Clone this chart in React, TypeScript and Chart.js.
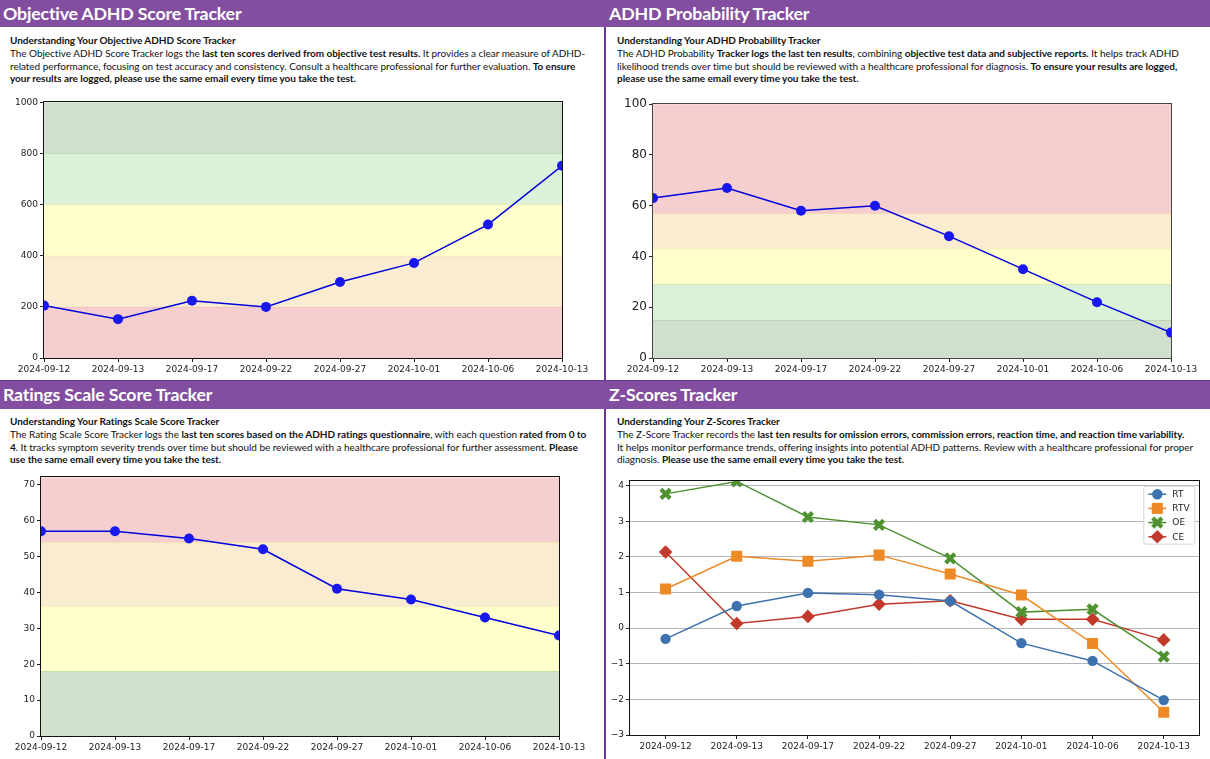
import React, { useEffect, useRef } from "react";
import { Chart, registerables } from "chart.js";
import { drawPoint } from "chart.js/helpers";

Chart.register(...registerables);

const dates = ["2024-09-12", "2024-09-13", "2024-09-17", "2024-09-22", "2024-09-27", "2024-10-01", "2024-10-06", "2024-10-13"];

const objectiveScores = [205, 152, 224, 200, 297, 372, 522, 752];
const probabilityScores = [63, 67, 58, 60, 48, 35, 22, 10];
const ratingScores = [57, 57, 55, 52, 41, 38, 33, 28];
const rtValues = [-0.3, 0.62, 0.99, 0.94, 0.76, -0.42, -0.92, -2.02];
const rtvValues = [1.1, 2.02, 1.88, 2.05, 1.52, 0.93, -0.43, -2.36];
const oeValues = [3.77, 4.12, 3.12, 2.9, 1.96, 0.45, 0.53, -0.8];
const ceValues = [2.14, 0.13, 0.33, 0.67, 0.77, 0.25, 0.25, -0.33];

const RED = ["#f5cfcf", "#f2b5a5"];
const ORANGE = ["#faecd0", "#f8d8a0"];
const YELLOW = ["#ffffcc", "#eeeea8"];
const LIGHT = ["#dcf2d8", "#aed8a0"];
const DARK = ["#d1dfcd", "#9cc88c"];

const objectiveEdges = [0, 200, 400, 600, 800, 1000];
const objectiveColors = [RED, ORANGE, YELLOW, LIGHT, DARK];
const probabilityEdges = [0, 15, 29, 43, 57, 100];
const probabilityColors = [DARK, LIGHT, YELLOW, ORANGE, RED];
const ratingEdges = [0, 18, 36, 54, 72];
const ratingColors = [DARK, YELLOW, ORANGE, RED];

const TICK_FONT = "'DejaVu Sans'";

const bandsPlugin = {
  id: "bands",
  beforeDatasetsDraw(chart: any, _a: any, opts: any) {
    if (!opts.edges) return;
    const { ctx, chartArea: a, scales } = chart;
    ctx.save();
    opts.colors.forEach((c: string[], i: number) => {
      const y0 = scales.y.getPixelForValue(opts.edges[i]);
      const y1 = scales.y.getPixelForValue(opts.edges[i + 1]);
      ctx.fillStyle = c[0];
      ctx.fillRect(a.left, y1, a.right - a.left, y0 - y1);
      if (i < opts.colors.length - 1) {
        ctx.fillStyle = c[1];
        ctx.fillRect(a.left, y1 - 0.5, a.right - a.left, 1);
      }
    });
    ctx.restore();
  },
};

const framePlugin = {
  id: "frame",
  afterDatasetsDraw(chart: any, _a: any, opts: any) {
    const { ctx, chartArea: a } = chart;
    ctx.save();
    ctx.strokeStyle = opts.color || "#111";
    ctx.lineWidth = 1;
    ctx.strokeRect(Math.round(a.left) - 0.5, Math.round(a.top) - 0.5, Math.round(a.right - a.left) + 1, Math.round(a.bottom - a.top) + 1);
    ctx.restore();
  },
};

const keyPlugin = {
  id: "lineKey",
  afterDraw(chart: any, _a: any, opts: any) {
    if (!opts.show) return;
    const { ctx, chartArea: a } = chart;
    const w = 51, h = 58, rowH = 14.2;
    const x = a.right - w - 5, y = a.top + 5;
    ctx.save();
    ctx.fillStyle = "rgba(255,255,255,0.85)";
    ctx.strokeStyle = "#d5d5d5";
    ctx.lineWidth = 1;
    ctx.beginPath();
    ctx.roundRect(x + 0.5, y + 0.5, w, h, 2);
    ctx.fill();
    ctx.stroke();
    chart.data.datasets.forEach((ds: any, i: number) => {
      const cy = y + 8.5 + i * rowH;
      ctx.strokeStyle = ds.borderColor;
      ctx.lineWidth = 1.5;
      ctx.beginPath();
      ctx.moveTo(x + 5, cy);
      ctx.lineTo(x + 23, cy);
      ctx.stroke();
      ctx.fillStyle = ds.pointBackgroundColor;
      ctx.strokeStyle = ds.pointBorderColor;
      ctx.lineWidth = ds.pointBorderWidth;
      drawPoint(ctx, { pointStyle: ds.pointStyle, radius: ds.pointRadius, borderWidth: ds.pointBorderWidth, rotation: 0 } as any, x + 14, cy);
      ctx.fillStyle = "#222";
      ctx.font = `9px ${TICK_FONT}`;
      ctx.textAlign = "left";
      ctx.textBaseline = "middle";
      ctx.fillText(ds.label, x + 29, cy + 0.5);
    });
    ctx.restore();
  },
};

function scaleOptions(o: any) {
  const tickColor = o.tickColor || "#222";
  return {
    x: {
      type: "category",
      offset: !!o.offset,
      afterFit: (s: any) => { s.height = o.xHeight; },
      grid: { drawOnChartArea: false, drawTicks: true, tickLength: 4, tickColor, color: tickColor },
      border: { display: false },
      ticks: { autoSkip: false, maxRotation: 0, minRotation: 0, padding: 2, color: "#222", font: { family: TICK_FONT, size: 9 } },
    },
    y: {
      type: "linear",
      min: o.min,
      max: o.max,
      afterFit: (s: any) => { s.width = o.axisWidth; },
      afterBuildTicks: (s: any) => { s.ticks = o.ticks.map((value: number) => ({ value })); },
      grid: o.yGrid
        ? { drawOnChartArea: true, color: "#b4b4b4", lineWidth: 1, drawTicks: true, tickLength: 4, tickColor }
        : { drawOnChartArea: false, drawTicks: true, tickLength: 4, tickColor, color: tickColor },
      border: { display: false },
      ticks: { padding: 2, color: "#222", font: { family: TICK_FONT, size: o.yFont || 9 }, callback: (v: number) => String(v).replace("-", "\u2212") },
    },
  };
}

function baseOptions(o: any) {
  return {
    responsive: false,
    maintainAspectRatio: false,
    animation: false,
    devicePixelRatio: 1,
    layout: { padding: { left: 0, top: o.padTop, right: o.padRight, bottom: 0 } },
    scales: scaleOptions(o),
    plugins: {
      legend: { display: false },
      tooltip: { enabled: false },
      title: { display: false },
      bands: { edges: o.edges, colors: o.colors },
      frame: { color: o.frameColor },
      lineKey: { show: !!o.key },
    },
  };
}

function blueLine(label: string, data: number[]) {
  return {
    label,
    data,
    borderColor: "#0000e0",
    borderWidth: 1.5,
    backgroundColor: "#1818ee",
    pointBackgroundColor: "#1818ee",
    pointBorderColor: "#1818ee",
    pointBorderWidth: 0,
    pointRadius: 5,
    tension: 0,
    clip: 0,
  };
}

function marked(label: string, data: number[], color: string, pointStyle: string, pointRadius: number, extra: any = {}) {
  return {
    label,
    data,
    borderColor: color,
    borderWidth: 1.5,
    backgroundColor: color,
    pointBackgroundColor: color,
    pointBorderColor: color,
    pointBorderWidth: 0,
    pointStyle,
    pointRadius,
    tension: 0,
    clip: 0,
    ...extra,
  };
}

function ChartCanvas({ box, config }: { box: number[]; config: any }) {
  const ref = useRef<HTMLCanvasElement>(null);
  useEffect(() => {
    const chart = new Chart(ref.current as HTMLCanvasElement, {
      type: "line",
      data: { labels: dates, datasets: config.datasets },
      options: config.options,
      plugins: [bandsPlugin, framePlugin, keyPlugin],
    } as any);
    return () => chart.destroy();
  }, []);
  return (
    <canvas
      ref={ref}
      width={box[2]}
      height={box[3]}
      style={{ position: "absolute", left: box[0], top: box[1], width: box[2], height: box[3] }}
    />
  );
}

function Rich({ text }: { text: string }) {
  const parts = text.split("**");
  return (
    <>
      {parts.map((p, i) => (i % 2 ? <b key={i}>{p}</b> : <span key={i}>{p}</span>))}
    </>
  );
}

function Header({ x, y, w, h, title }: any) {
  return (
    <div style={{ position: "absolute", left: x, top: y, width: w, height: h, lineHeight: h - 1 + "px", color: "#fff", fontWeight: 700, fontSize: 17.8, letterSpacing: -0.2, whiteSpace: "nowrap", paddingLeft: 3, boxSizing: "border-box" }}>
      {title}
    </div>
  );
}

function Blurb({ x, y, heading, lines }: any) {
  return (
    <div style={{ position: "absolute", left: x, top: y, fontSize: 10, letterSpacing: -0.04, lineHeight: "12.8px", color: "#111", whiteSpace: "nowrap" }}>
      <div><b>{heading}</b></div>
      {lines.map((l: string, i: number) => (
        <div key={i}><Rich text={l} /></div>
      ))}
    </div>
  );
}

const objectiveLines = [
  "The Objective ADHD Score Tracker logs the **last ten scores derived from objective test results.** It provides a clear measure of ADHD-",
  "related performance, focusing on test accuracy and consistency. Consult a healthcare professional for further evaluation. **To ensure**",
  "**your results are logged, please use the same email every time you take the test.**",
];
const probabilityLines = [
  "The ADHD Probability **Tracker logs the last ten results**, combining **objective test data and subjective reports.** It helps track ADHD",
  "likelihood trends over time but should be reviewed with a healthcare professional for diagnosis. **To ensure your results are logged,**",
  "**please use the same email every time you take the test.**",
];
const ratingLines = [
  "The Rating Scale Score Tracker logs the **last ten scores based on the ADHD ratings questionnaire**, with each question **rated from 0 to**",
  "**4**. It tracks symptom severity trends over time but should be reviewed with a healthcare professional for further assessment. **Please**",
  "**use the same email every time you take the test.**",
];
const zLines = [
  "The Z-Score Tracker records the **last ten results for omission errors, commission errors, reaction time, and reaction time variability.**",
  "It helps monitor performance trends, offering insights into potential ADHD patterns. Review with a healthcare professional for proper",
  "diagnosis. **Please use the same email every time you take the test.**",
];

const PURPLE = "#834ea0";
const DIVIDER = "#6a3596";

export default function App() {
  useEffect(() => {
    document.body.style.margin = "0";
    document.body.style.overflow = "hidden";
    document.body.style.background = "#fff";
  }, []);

  const c1 = {
    datasets: [blueLine("Objective ADHD Score", objectiveScores)],
    options: baseOptions({ min: 0, max: 1000, ticks: [0, 200, 400, 600, 800, 1000], axisWidth: 44, xHeight: 22, padTop: 7, padRight: 42, edges: objectiveEdges, colors: objectiveColors }),
  };
  const c2 = {
    datasets: [blueLine("ADHD Probability", probabilityScores)],
    options: baseOptions({ min: 0, max: 100, ticks: [0, 20, 40, 60, 80, 100], axisWidth: 47, xHeight: 22, padTop: 7, padRight: 39, edges: probabilityEdges, colors: probabilityColors, yFont: 12, frameColor: "#444" }),
  };
  const c3 = {
    datasets: [blueLine("Ratings Scale Score", ratingScores)],
    options: baseOptions({ min: 0, max: 72, ticks: [0, 10, 20, 30, 40, 50, 60, 70], axisWidth: 41, xHeight: 23, padTop: 7, padRight: 45, edges: ratingEdges, colors: ratingColors }),
  };
  const c4 = {
    datasets: [
      marked("RT", rtValues, "#3e72ae", "circle", 5.2),
      marked("RTV", rtvValues, "#ed8a26", "rect", 7.8),
      marked("OE", oeValues, "#4f9232", "crossRot", 6.5, { pointBorderWidth: 4.2 }),
      marked("CE", ceValues, "#c0392b", "rectRot", 6.8),
    ],
    options: baseOptions({ min: -3, max: 4.14, ticks: [-3, -2, -1, 0, 1, 2, 3, 4], axisWidth: 24, xHeight: 24, padTop: 7, padRight: 10, offset: true, yGrid: true, key: true }),
  };

  return (
    <div style={{ position: "absolute", left: 0, top: 0, width: 1210, height: 759, overflow: "hidden", background: "#fff", fontFamily: "Lato, 'Noto Sans', sans-serif" }}>
      <div style={{ position: "absolute", left: 604, top: 0, width: 1.5, height: 759, background: DIVIDER }} />
      <ChartCanvas box={[0, 95, 604, 285]} config={c1} />
      <ChartCanvas box={[606, 95, 604, 285]} config={c2} />
      <ChartCanvas box={[0, 470, 604, 289]} config={c3} />
      <ChartCanvas box={[606, 470, 604, 289]} config={c4} />
      <div style={{ position: "absolute", left: 0, top: 0, width: 1210, height: 27, background: PURPLE }} />
      <div style={{ position: "absolute", left: 0, top: 380, width: 1210, height: 29, background: PURPLE, borderTop: "1px solid #6a3596", boxSizing: "border-box" }} />
      <Header x={0} y={0} w={604} h={27} title="Objective ADHD Score Tracker" />
      <Header x={606} y={0} w={604} h={27} title="ADHD Probability Tracker" />
      <Header x={0} y={380} w={604} h={29} title="Ratings Scale Score Tracker" />
      <Header x={606} y={380} w={604} h={29} title="Z-Scores Tracker" />
      <Blurb x={10} y={34} heading="Understanding Your Objective ADHD Score Tracker" lines={objectiveLines} />
      <Blurb x={617} y={34} heading="Understanding Your ADHD Probability Tracker" lines={probabilityLines} />
      <Blurb x={10} y={415} heading="Understanding Your Ratings Scale Score Tracker" lines={ratingLines} />
      <Blurb x={617} y={415} heading="Understanding Your Z-Scores Tracker" lines={zLines} />
    </div>
  );
}
